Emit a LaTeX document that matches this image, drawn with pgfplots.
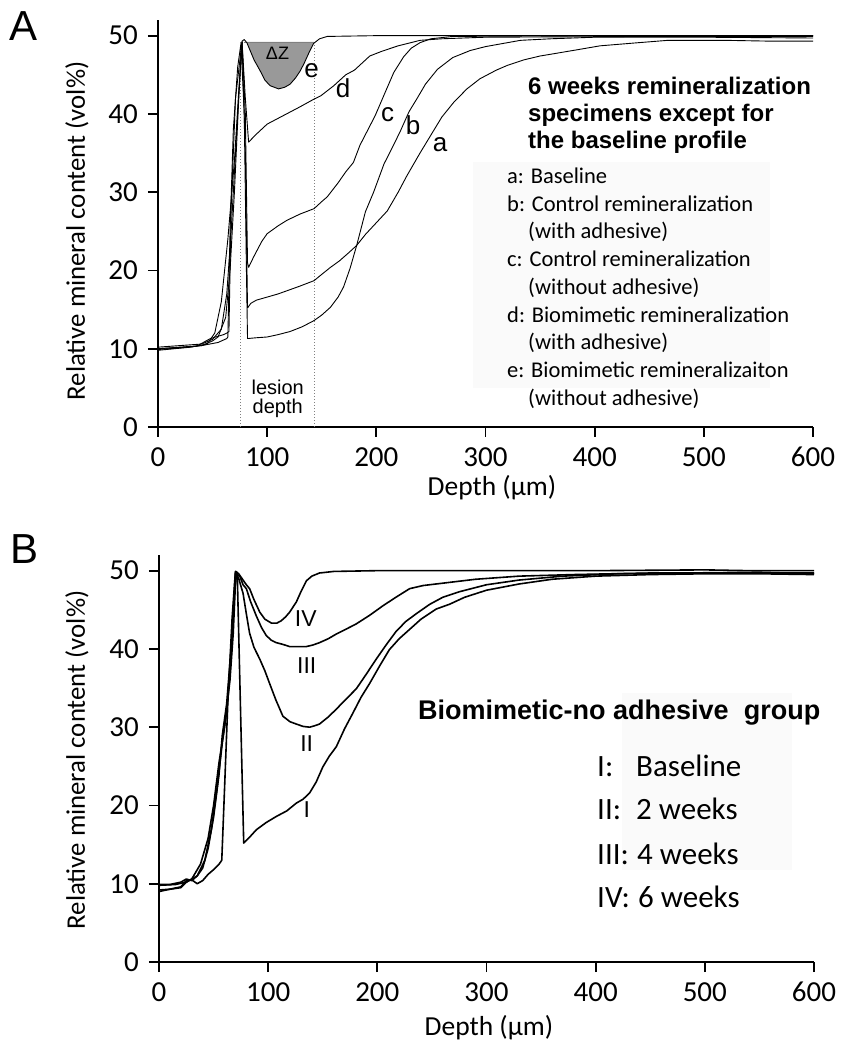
\documentclass[border=0pt]{standalone}
\usepackage{pgfplots}
\pgfplotsset{compat=1.18}
\usepackage{fontspec}
\setmainfont{Carlito}
\newfontfamily\arial{Liberation Sans}
\newfontfamily\calibri{Carlito}

\pgfplotsset{
  profile/.style={
    scale only axis, width=655pt, height=407pt,
    xmin=0, xmax=600, ymin=0, ymax=52,
    axis lines=left, axis line style={-, line width=2pt},
    xtick={0,100,...,600}, ytick={0,10,...,50},
    tick align=outside, major tick length=10pt,
    tick style={line width=1.8pt, black},
    tick label style={font=\calibri\fontsize{29}{29}\selectfont},
    xticklabel style={anchor=north, inner sep=0pt, yshift=-10pt},
    yticklabel style={anchor=east, inner sep=0pt, xshift=-10pt},
    /pgf/number format/assume math mode=true,
    clip=false,
  },
  thin curve/.style={black, line width=0.9pt, line join=round},
  thick curve/.style={black, line width=1.6pt, line join=round},
}

\begin{document}
\begin{tikzpicture}
\path[use as bounding box] (0pt,0pt) rectangle (852pt,1050pt);

% faint boxes behind the keys
\fill[black!2] (473pt,662pt) rectangle (770pt,888pt);
\fill[black!2] (622pt,180pt) rectangle (792pt,357pt);

% ---------------- panel A
\begin{axis}[profile, at={(158pt,623pt)}, anchor=south west]
  \addplot[fill=gray!80, draw=none] coordinates {
    (78.5,49.2)(81.4,49.1)(84.4,48.1)(88,46.9)(93.6,45.5)(98,44.3)(102.8,43.6)
    (110.4,43.2)(116,43.4)(121,43.8)(126,44.6)(130.3,45.5)(134,46.5)(137.9,47.7)
    (142.5,49.0)(143,49.2)} -- cycle;
  \addplot[gray, dotted, line width=1pt] coordinates {(76,0)(76,49.2)};
  \addplot[gray, dotted, line width=1pt] coordinates {(143,0)(143,49.2)};
  \addplot[gray, line width=0.8pt] coordinates {(78.5,49.2)(143,49.2)};
  % a: baseline
  \addplot[thin curve] coordinates {
    (0,9.9)(20,10.1)(40,10.4)(50,11.0)(55,11.5)(62,14)(66,20)(70,30)(74,42)(77,49.2)
    (80,35)(82,15.2)(85,15.8)(90,16.2)(100,16.6)(110,17.0)(120,17.5)(130,18.0)(143,18.7)
    (150,19.5)(158,20.4)(166,21.2)(175,22.3)(182,23.2)(190,24.6)(200,26.1)(210,27.6)
    (220,30.0)(228,32.1)(240,35)(250,37.3)(260,39.6)(271,41.5)(283,43.2)(295,44.5)
    (310,45.6)(320,46.2)(335,46.9)(350,47.4)(380,48.1)(405,48.7)(440,49.1)(467,49.4)
    (520,49.4)(560,49.3)(600,49.3)};
  % b: control with adhesive
  \addplot[thin curve] coordinates {
    (0,10.0)(20,10.2)(40,10.4)(55,10.8)(63,11.3)(64,11.5)(66,25)(69,38)(73,46)(76,49.0)
    (79,40)(81,20)(82,11.3)(90,11.4)(100,11.5)(110,11.8)(121,12.2)(132,12.8)(143,13.6)
    (150,14.3)(158,15.3)(165,16.6)(170,17.9)(176,20.3)(182,23.2)(190,27.5)(197.5,30)
    (207,33.6)(215,35.8)(222,37.8)(230,40.3)(237,41.9)(245,43.8)(256,45.7)(270,47.2)
    (286,48.1)(300,48.6)(332,49.4)(360,49.6)(400,49.8)(500,49.8)(600,49.7)};
  % c: control without adhesive
  \addplot[thin curve] coordinates {
    (0,10.2)(40,10.6)(50,11.2)(58,12.5)(63,17)(67,25)(71,35)(75,45)(77,49.2)(80,40)
    (82,21)(83,20.4)(87.5,21.7)(95,23.7)(100,24.7)(110,25.7)(118,26.4)(130,27.2)
    (143,27.9)(150,28.8)(155,29.4)(165,31.2)(172,32.6)(179,33.8)(185,36)(192,37.9)
    (199,39.8)(207,42.4)(216,45.3)(225,47.3)(232,48.4)(240,49.1)(250,49.6)(270,49.9)
    (400,50.0)(600,50.0)};
  % d: biomimetic with adhesive
  \addplot[thin curve] coordinates {
    (0,9.8)(30,10.2)(45,10.6)(52,12)(58,16)(64,24)(70,34)(74,43)(77,49.2)(80,42)
    (83,36.4)(90,37.4)(100,38.7)(115,39.8)(130,40.9)(143,41.9)(149,42.3)(161,43.6)
    (172,45.0)(180,45.6)(194,47.4)(205,48.0)(220,48.7)(240,49.4)(260,49.6)(300,49.8)
    (450,49.9)(600,49.9)};
  % e: biomimetic without adhesive
  \addplot[thin curve] coordinates {
    (0,10.0)(35,10.3)(48,11.3)(60,11.8)(63,12.0)(65,12.2)(67,28)(71,42)(77,49.3)
    (79,49.5)(81.4,49.1)(84.4,48.1)(88,46.9)(93.6,45.5)(98,44.3)(102.8,43.6)(110.4,43.2)
    (116,43.4)(121,43.8)(126,44.6)(130.3,45.5)(134,46.5)(137.9,47.7)(142.5,49.0)
    (148,49.6)(155,49.9)(200,50.0)(600,50.0)};
\end{axis}

% ---------------- panel B
\begin{axis}[profile, at={(159pt,88pt)}, anchor=south west]
  % I: baseline
  \addplot[thick curve] coordinates {
    (0,9.0)(10,9.3)(20,9.6)(25,10.4)(30,10.5)(35,10.0)(40,10.4)(45,11.2)(50,11.8)
    (55,12.5)(57.5,13)(60,22)(63,33)(67,44)(70,49.9)(71.7,49.6)(77.6,15.2)(82,15.8)
    (89.2,16.9)(98,17.8)(107.5,18.6)(117,19.3)(125.8,20.3)(132,20.8)(138,21.6)(144,23.0)
    (150,24.9)(156,26.3)(162.4,27.5)(170,29.8)(177.6,31.8)(185,33.8)(193,35.6)(202,37.8)
    (211,39.9)(220,41.3)(229.6,42.5)(240,43.8)(254,45.1)(266,45.7)(280,46.6)(300,47.5)
    (330,48.3)(360,48.9)(400,49.3)(450,49.5)(500,49.6)(550,49.6)(600,49.5)};
  % II: 2 weeks
  \addplot[thick curve] coordinates {
    (0,9.9)(10,9.9)(20,10.2)(25,10.6)(30,10.4)(35,11)(40,12)(45,14.5)(50,18.5)(55,24)
    (58,29)(62,33)(66,40)(70,49.8)(73,49)(77,47.1)(80,44.5)(83,42)(87,40.2)(92.3,38.7)
    (97,37.2)(101,35.7)(107,33.5)(113.5,31.4)(120,30.7)(125.8,30.4)(132,30.1)(138,30.0)
    (143,30.2)(147,30.4)(155,31.3)(162.4,32.3)(170,33.4)(180.7,34.9)(190,36.8)(199,38.7)
    (208,40.5)(217,42.2)(226,43.5)(235.7,44.5)(248,45.7)(260,46.6)(275,47.3)(300,48.2)
    (330,48.8)(370,49.3)(420,49.6)(480,49.7)(550,49.8)(600,49.6)};
  % III: 4 weeks
  \addplot[thick curve] coordinates {
    (0,9.8)(15,9.9)(25,10.2)(35,11)(42,13)(48,17)(53,22)(58,28)(62,32)(66,39)(69,47)
    (71,49.5)(74,49.3)(77,48.2)(80,47.7)(84,46)(89.2,44.2)(94,42.7)(98.3,41.7)(103,41.1)
    (107.4,40.8)(113,40.6)(119.7,40.3)(127,40.3)(135,40.3)(141,40.5)(147,40.8)(155,41.3)
    (162.4,41.9)(171,42.5)(180.7,43.2)(193,44.3)(205,45.5)(217,46.6)(229.6,47.7)
    (242,48.1)(254,48.3)(266,48.5)(290,48.9)(330,49.3)(380,49.5)(450,49.7)(600,49.7)};
  % IV: 6 weeks
  \addplot[thick curve] coordinates {
    (0,9.2)(10,9.3)(20,9.5)(25,10.2)(30,10.6)(38,12.5)(45,15.8)(50,20)(55,25.5)(60,30)
    (65,36)(68,42)(70.5,49.9)(73,49.6)(77,48.8)(80,48.2)(83,47.7)(87,46.3)(92.3,44.7)
    (97,43.8)(103,43.3)(108,43.3)(112,43.6)(116,44.1)(119.7,44.7)(125.8,46.0)(130,47.3)
    (135,48.7)(140,49.3)(147,49.7)(160,49.9)(200,50.0)(300,50.0)(400,50.0)(500,50.1)
    (540,50.0)(600,50.0)};
\end{axis}

% ---------------- texts
\node[font=\arial\fontsize{42}{42}\selectfont] at (24pt,1024pt) {A};
\node[font=\arial\fontsize{42}{42}\selectfont] at (25pt,501pt) {B};

\node[rotate=90, font=\calibri\fontsize{26.8}{26.8}\selectfont] at (77pt,819pt) {Relative mineral content (vol\%)};
\node[rotate=90, font=\calibri\fontsize{26.8}{26.8}\selectfont] at (77pt,290pt) {Relative mineral content (vol\%)};
\node[anchor=base, inner sep=0pt, font=\calibri\fontsize{27.5}{27.5}\selectfont] at (492pt,554pt) {Depth (μm)};
\node[anchor=base, inner sep=0pt, font=\calibri\fontsize{27.5}{27.5}\selectfont] at (489pt,15pt) {Depth (μm)};

% panel A annotations
\begin{scope}[every node/.style={anchor=base, inner sep=0pt, font=\arial\fontsize{26}{26}\selectfont}]
  \node at (311.7pt,972pt) {e};
  \node at (343pt,952pt) {d};
  \node at (387.7pt,928.3pt) {c};
  \node at (413pt,915pt) {b};
  \node at (440pt,898.3pt) {a};
\end{scope}
\node[anchor=base, inner sep=0pt, font=\arial\fontsize{18}{18}\selectfont] at (277.5pt,990pt) {ΔZ};
\node[anchor=base, inner sep=0pt, font=\arial\fontsize{20}{20}\selectfont] at (277.7pt,655.7pt) {lesion};
\node[anchor=base, inner sep=0pt, font=\arial\fontsize{20}{20}\selectfont] at (277.7pt,636.7pt) {depth};

\begin{scope}[every node/.style={anchor=base west, inner sep=0pt, font=\arial\bfseries\fontsize{24}{24}\selectfont}]
  \node at (528pt,955pt) {6 weeks remineralization};
  \node at (528pt,928.3pt) {specimens except for};
  \node at (528pt,901.7pt) {the baseline profile};
\end{scope}
\begin{scope}[every node/.style={anchor=base west, inner sep=0pt, font=\calibri\fontsize{22.5}{22.5}\selectfont}]
  \node at (507pt,866.7pt) {a: Baseline};
  \node at (507pt,838.9pt) {b: Control remineralization};
  \node at (528pt,811.1pt) {(with adhesive)};
  \node at (507pt,783.3pt) {c: Control remineralization};
  \node at (528pt,755.6pt) {(without adhesive)};
  \node at (507pt,727.8pt) {d: Biomimetic remineralization};
  \node at (528pt,700pt) {(with adhesive)};
  \node at (507pt,672.2pt) {e: Biomimetic remineralizaiton};
  \node at (528pt,644.4pt) {(without adhesive)};
\end{scope}

% panel B annotations
\begin{scope}[every node/.style={anchor=base, inner sep=0pt, font=\arial\fontsize{23}{23}\selectfont}]
  \node at (305.8pt,423.3pt) {IV};
  \node at (306.7pt,376.7pt) {III};
  \node at (306.7pt,298.3pt) {II};
  \node at (306.7pt,232pt) {I};
\end{scope}
\node[anchor=base west, inner sep=0pt, font=\arial\bfseries\fontsize{27}{27}\selectfont] at (418pt,330pt) {Biomimetic-no adhesive\ \ group};
\begin{scope}[every node/.style={anchor=base west, inner sep=0pt, font=\calibri\fontsize{31}{31}\selectfont}]
  \node at (597pt,273.3pt) {I:};   \node at (636pt,273.3pt) {Baseline};
  \node at (597pt,230pt) {II:};    \node at (636pt,230pt) {2 weeks};
  \node at (597pt,185pt) {III:};   \node at (637pt,185pt) {4 weeks};
  \node at (597pt,142pt) {IV:};    \node at (638pt,142pt) {6 weeks};
\end{scope}
\end{tikzpicture}
\end{document}
